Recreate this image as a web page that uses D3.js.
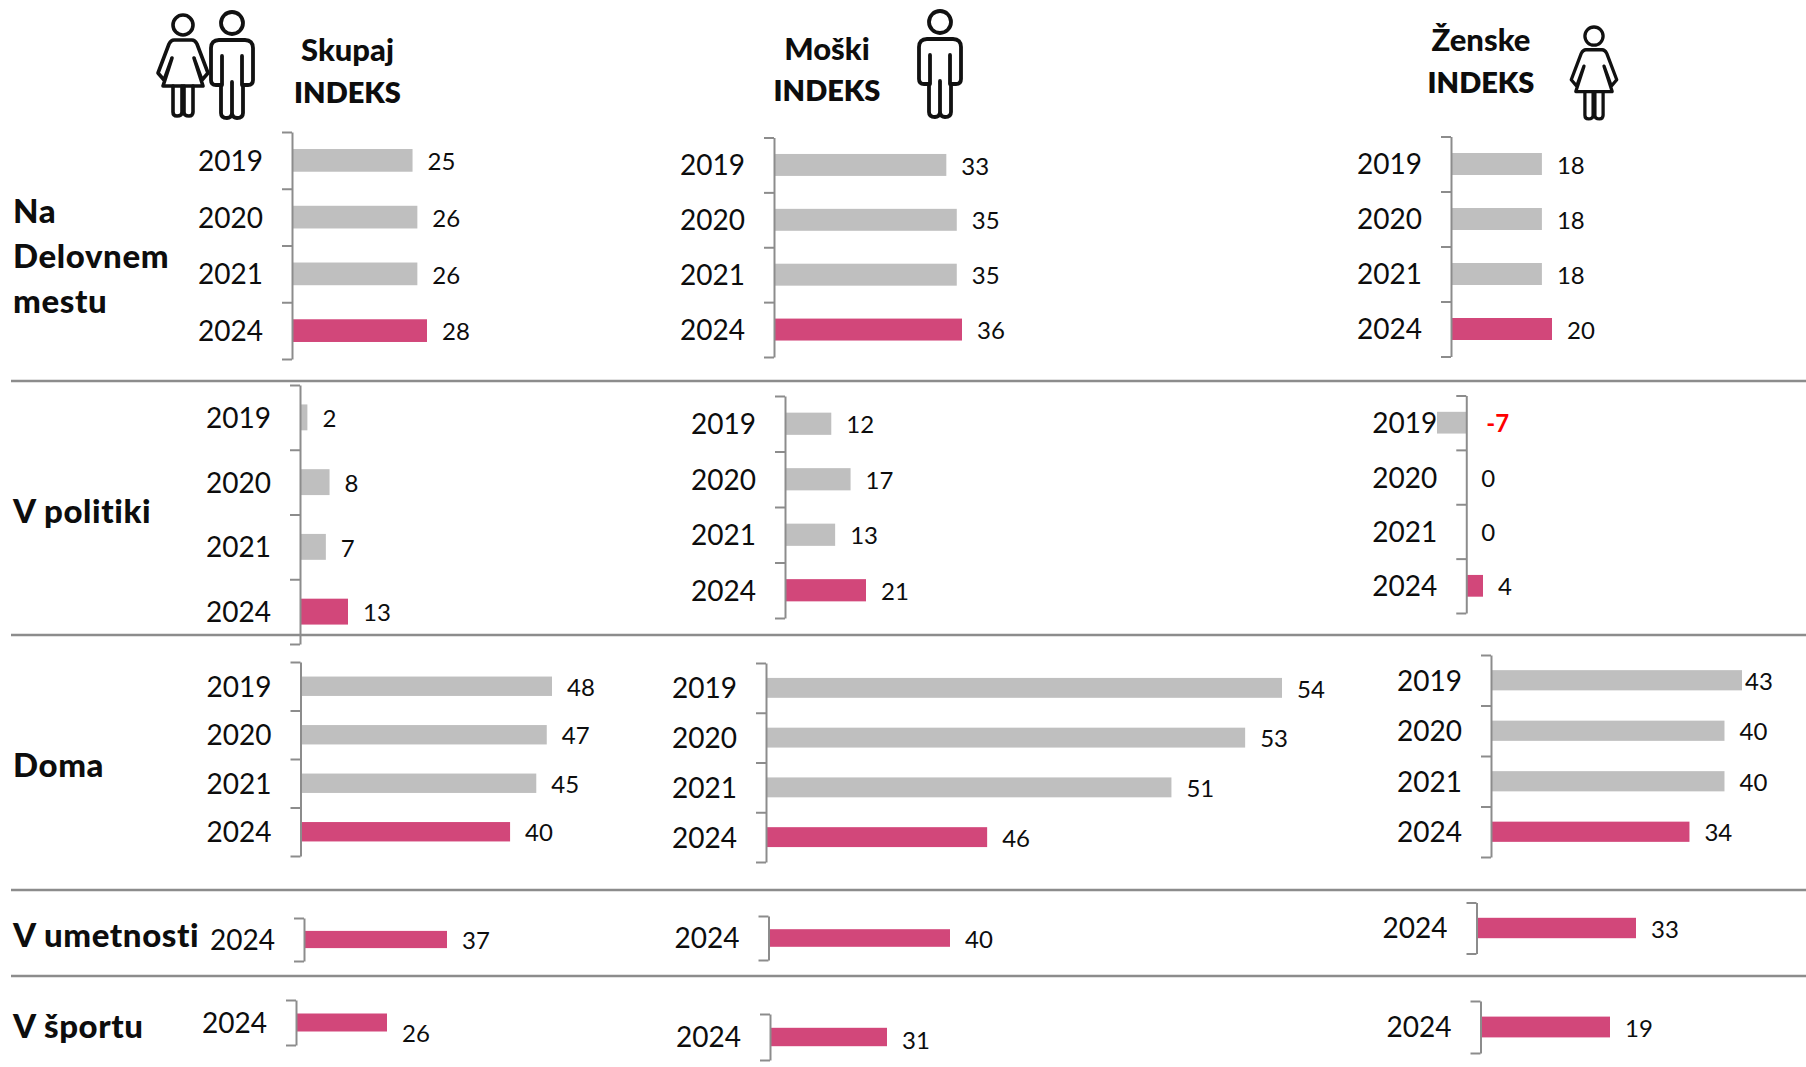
<!DOCTYPE html>
<html>
<head>
<meta charset="utf-8">
<script src="https://d3js.org/d3.v7.min.js"></script>
<style>
  html, body { margin: 0; padding: 0; background: #fff; }
  svg { display: block; }
  text { font-family: Lato, sans-serif; fill: #0d0d0d; }
</style>
</head>
<body>
<div id="my_dataviz"></div>

<script>
// categories
var years = ["2019", "2020", "2021", "2024"];
var lastYear = ["2024"];

// values: row = place, suffix = group (skupaj, moski, zenske)
var deloSkupaj = [25, 26, 26, 28];
var deloMoski = [33, 35, 35, 36];
var deloZenske = [18, 18, 18, 20];
var politikaSkupaj = [2, 8, 7, 13];
var politikaMoski = [12, 17, 13, 21];
var politikaZenske = [-7, 0, 0, 4];
var domaSkupaj = [48, 47, 45, 40];
var domaMoski = [54, 53, 51, 46];
var domaZenske = [43, 40, 40, 34];
var umetnostSkupaj = [37];
var umetnostMoski = [40];
var umetnostZenske = [33];
var sportSkupaj = [26];
var sportMoski = [31];
var sportZenske = [19];

var rowLabels = [
  {lines: ["Na", "Delovnem", "mestu"], y: 223},
  {lines: ["V politiki"], y: 523},
  {lines: ["Doma"], y: 777},
  {lines: ["V umetnosti"], y: 947},
  {lines: ["V športu"], y: 1038}
];
var headers = [
  {lines: ["Skupaj", "INDEKS"], x: 347.5, y: [61, 103]},
  {lines: ["Moški", "INDEKS"], x: 827, y: [60, 101]},
  {lines: ["Ženske", "INDEKS"], x: 1481, y: [51, 93]}
];
var separators = [381, 635, 890, 976];

// where each small chart sits. the charts were pasted by hand in the original
// so each one has its own scale. domaMoski really starts at 40.
var panels = [
  {cats: years, vals: deloSkupaj, dom: [0, 28], x: [292, 427], y: [132, 359]},
  {cats: years, vals: deloMoski, dom: [0, 36], x: [774, 962], y: [137.5, 357]},
  {cats: years, vals: deloZenske, dom: [0, 20], x: [1451, 1552], y: [136.5, 356.5]},
  {cats: years, vals: politikaSkupaj, dom: [0, 13], x: [300, 348], y: [385, 644]},
  {cats: years, vals: politikaMoski, dom: [0, 21], x: [785, 866], y: [396, 618]},
  {cats: years, vals: politikaZenske, dom: [-7, 4], x: [1437, 1483], y: [395.5, 613]},
  {cats: years, vals: domaSkupaj, dom: [0, 48], x: [300.5, 552], y: [662, 856]},
  {cats: years, vals: domaMoski, dom: [40, 54], x: [766, 1282], y: [663, 862]},
  {cats: years, vals: domaZenske, dom: [0, 43], x: [1491, 1742], y: [655, 857], labelMax: 1745},
  {cats: lastYear, vals: umetnostSkupaj, dom: [0, 37], x: [304, 447], y: [918, 961]},
  {cats: lastYear, vals: umetnostMoski, dom: [0, 40], x: [768.5, 950], y: [916, 960]},
  {cats: lastYear, vals: umetnostZenske, dom: [0, 33], x: [1476.5, 1636], y: [902.5, 953.5]},
  {cats: lastYear, vals: sportSkupaj, dom: [0, 26], x: [296, 387], y: [1000, 1045], valDy: 11},
  {cats: lastYear, vals: sportMoski, dom: [0, 31], x: [770, 887], y: [1014, 1060], valDy: 3},
  {cats: lastYear, vals: sportZenske, dom: [0, 19], x: [1480.5, 1610], y: [1001, 1053]}
];

var width = 1806, height = 1067;
var grey = "#bfbfbf", pink = "#d2477a", axisCol = "#8c8c8c";

var svg = d3.select("#my_dataviz")
  .append("svg")
    .attr("width", width)
    .attr("height", height);

// row separators
svg.selectAll(".sep")
  .data(separators)
  .enter()
  .append("line")
    .attr("x1", 11)
    .attr("x2", width)
    .attr("y1", d => d)
    .attr("y2", d => d)
    .attr("stroke", axisCol)
    .attr("stroke-width", 2.5);

panels.forEach(function(p) {
  var x = d3.scaleLinear().domain(p.dom).range(p.x);
  // bars fill 40% of each step, like a 150% gap width
  var y = d3.scaleBand().domain(p.cats).range(p.y).paddingInner(0.6).paddingOuter(0.3);
  var base = Math.max(0, p.dom[0]);
  var x0 = x(base);
  var rows = p.cats.map((c, i) => ({cat: c, val: p.vals[i]}));
  var g = svg.append("g");

  // bars
  g.selectAll("rect")
    .data(rows)
    .enter()
    .append("rect")
      .attr("x", d => Math.min(x(d.val), x0))
      .attr("y", d => y(d.cat))
      .attr("width", d => Math.abs(x(d.val) - x0))
      .attr("height", y.bandwidth())
      .attr("fill", d => d.cat == "2024" ? pink : grey);

  // axis line with the ticks between the categories
  var edges = d3.scaleLinear().domain([0, p.cats.length]).range(p.y);
  var tickAxis = g.append("g")
    .attr("transform", "translate(" + x0 + ",0)")
    .call(d3.axisLeft(edges)
      .tickValues(d3.range(p.cats.length + 1))
      .tickFormat("")
      .tickSize(10)
      .tickSizeOuter(0));
  tickAxis.selectAll("line, path").attr("stroke", axisCol).attr("stroke-width", 2);

  // year labels
  var labelAxis = g.append("g")
    .attr("transform", "translate(" + x0 + ",1.5)")
    .call(d3.axisLeft(y).tickSize(0).tickPadding(29));
  labelAxis.select(".domain").remove();
  labelAxis.selectAll("text")
    .style("font-family", "Lato, sans-serif")
    .style("font-size", "28px")
    .attr("fill", "#0d0d0d");

  // value labels
  g.selectAll(".val")
    .data(rows)
    .enter()
    .append("text")
      .attr("class", "val")
      .attr("x", function(d) {
        var px = Math.max(x(d.val), x0) + (d.val < 0 ? 20 : 15);
        return p.labelMax ? Math.min(px, p.labelMax) : px;
      })
      .attr("y", d => y(d.cat) + y.bandwidth() / 2 + (p.valDy || 1))
      .attr("dy", "0.36em")
      .style("font-size", "24px")
      .style("font-weight", d => d.val < 0 ? 700 : 400)
      .style("fill", d => d.val < 0 ? "#ff0000" : "#0d0d0d")
      .text(d => d.val);
});

// row titles
rowLabels.forEach(function(r) {
  r.lines.forEach(function(line, i) {
    svg.append("text")
      .attr("x", 13)
      .attr("y", r.y + i * 45)
      .style("font-size", "33px")
      .style("letter-spacing", "0.6px")
      .style("font-weight", 900)
      .text(line);
  });
});

// column titles, the lower case words run a bit larger than INDEKS
headers.forEach(function(h) {
  h.lines.forEach(function(line, i) {
    svg.append("text")
      .attr("x", h.x)
      .attr("y", h.y[i])
      .attr("text-anchor", "middle")
      .style("font-size", i == 0 ? "31px" : "29px")
      .style("font-weight", i == 0 ? 900 : 800)
      .text(line);
  });
});

// pictograms
function drawMan(ox, oy, k) {
  var g = svg.append("g")
    .attr("transform", "translate(" + ox + "," + oy + ") scale(" + k + ")")
    .attr("fill", "none")
    .attr("stroke", "#111")
    .attr("stroke-width", 3.8)
    .attr("stroke-linejoin", "round")
    .attr("stroke-linecap", "round");
  g.append("circle").attr("cx", 0).attr("cy", 11).attr("r", 11);
  g.append("path").attr("d",
    "M-13,28 H13 Q21,28 21,36 V68 Q21,73 16,73 H11 V101 Q11,106 5,106 Q1,106 0,102" +
    " Q-1,106 -5,106 Q-11,106 -11,101 V73 H-16 Q-21,73 -21,68 V36 Q-21,28 -13,28 Z");
  g.append("path").attr("d", "M-10,44 V73 M10,44 V73 M0,70 V102");
}

function drawWoman(ox, oy, k) {
  var g = svg.append("g")
    .attr("transform", "translate(" + ox + "," + oy + ") scale(" + k + ")")
    .attr("fill", "none")
    .attr("stroke", "#111")
    .attr("stroke-width", 3.6)
    .attr("stroke-linejoin", "round")
    .attr("stroke-linecap", "round");
  g.append("circle").attr("cx", 0).attr("cy", 10).attr("r", 10);
  g.append("path").attr("d",
    "M-9,25 H9 Q12,25 14,29 L25,58 L19,65 L11,43 L20,71 H-20 L-11,43 L-19,65 L-25,58 L-14,29 Q-12,25 -9,25 Z");
  g.append("path").attr("d",
    "M-10,71 V97 Q-10,101 -6,101 Q-1,101 -1,97 V71 M1,71 V97 Q1,101 6,101 Q10,101 10,97 V71");
}

drawWoman(183, 15, 1);
drawMan(232, 12, 1);
drawMan(940, 11, 1);
drawWoman(1594, 27, 0.91);
</script>
</body>
</html>
